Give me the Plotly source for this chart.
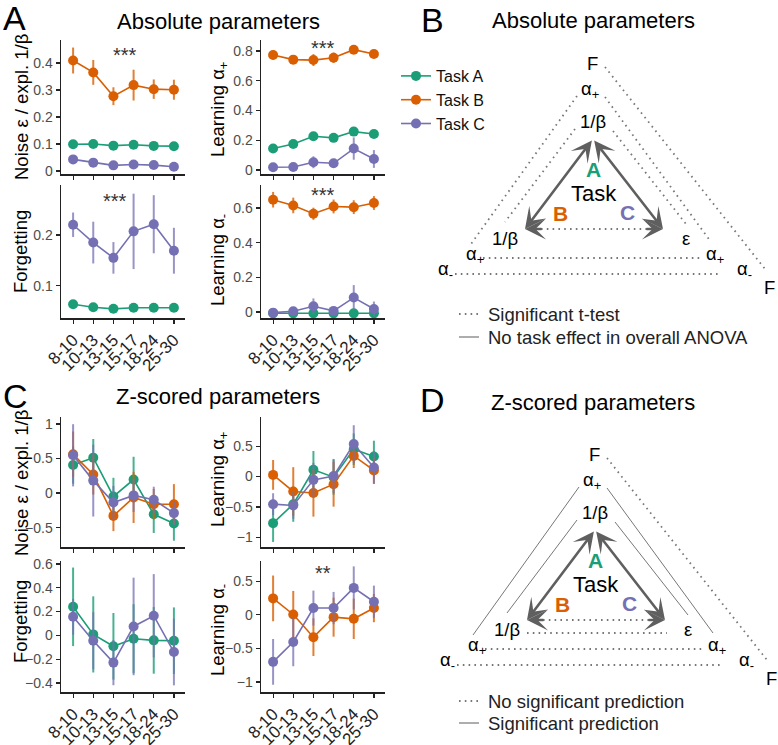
import plotly.graph_objects as go

W, H = 778, 745
FONT = "Liberation Sans, Arial, sans-serif"

# ---------------- data ----------------
ages = ["8-10", "10-13", "13-15", "15-17", "18-24", "25-30"]
tasks = ["Task A", "Task B", "Task C"]

# Panel A: absolute parameters (mean, error half-width)
abs_noise_A = [0.099, 0.100, 0.094, 0.097, 0.093, 0.092]
abs_noise_A_err = [0.005, 0.005, 0.005, 0.005, 0.005, 0.005]
abs_noise_B = [0.409, 0.365, 0.277, 0.318, 0.303, 0.301]
abs_noise_B_err = [0.048, 0.046, 0.033, 0.057, 0.036, 0.037]
abs_noise_C = [0.043, 0.031, 0.021, 0.024, 0.022, 0.016]
abs_noise_C_err = [0.008, 0.010, 0.005, 0.006, 0.005, 0.005]

abs_apos_A = [0.144, 0.175, 0.227, 0.216, 0.258, 0.242]
abs_apos_A_err = [0.02, 0.02, 0.02, 0.02, 0.02, 0.02]
abs_apos_B = [0.773, 0.742, 0.739, 0.755, 0.809, 0.780]
abs_apos_B_err = [0.03, 0.03, 0.04, 0.035, 0.02, 0.025]
abs_apos_C = [0.018, 0.020, 0.052, 0.045, 0.144, 0.074]
abs_apos_C_err = [0.01, 0.01, 0.04, 0.03, 0.075, 0.06]

abs_forg_A = [0.064, 0.058, 0.055, 0.057, 0.057, 0.057]
abs_forg_A_err = [0.005, 0.005, 0.004, 0.004, 0.004, 0.004]
abs_forg_C = [0.220, 0.185, 0.155, 0.207, 0.221, 0.169]
abs_forg_C_err = [0.024, 0.041, 0.031, 0.074, 0.057, 0.045]

abs_aneg_A = [-0.008, -0.008, -0.008, -0.008, -0.008, -0.008]
abs_aneg_A_err = [0.003, 0.003, 0.003, 0.003, 0.003, 0.003]
abs_aneg_B = [0.648, 0.615, 0.567, 0.609, 0.605, 0.629]
abs_aneg_B_err = [0.045, 0.045, 0.035, 0.04, 0.04, 0.04]
abs_aneg_C = [-0.004, 0.004, 0.033, 0.006, 0.083, 0.017]
abs_aneg_C_err = [0.01, 0.01, 0.045, 0.015, 0.072, 0.043]

# Panel C: z-scored parameters
z_noise_A = [0.405, 0.512, -0.049, 0.195, -0.307, -0.439]
z_noise_A_err = [0.27, 0.27, 0.27, 0.33, 0.27, 0.25]
z_noise_B = [0.56, 0.268, -0.33, -0.063, -0.161, -0.161]
z_noise_B_err = [0.33, 0.29, 0.22, 0.37, 0.22, 0.29]
z_noise_C = [0.546, 0.18, -0.137, -0.034, -0.098, -0.29]
z_noise_C_err = [0.45, 0.52, 0.24, 0.24, 0.19, 0.17]

z_apos_A = [-0.767, -0.455, 0.11, -0.01, 0.45, 0.33]
z_apos_A_err = [0.31, 0.29, 0.31, 0.29, 0.26, 0.26]
z_apos_B = [0.027, -0.246, -0.27, -0.126, 0.34, 0.10]
z_apos_B_err = [0.245, 0.40, 0.39, 0.37, 0.2, 0.22]
z_apos_C = [-0.455, -0.477, -0.055, 0.01, 0.535, 0.15]
z_apos_C_err = [0.18, 0.22, 0.28, 0.28, 0.31, 0.27]

z_forg_A = [0.24, 0.008, -0.092, -0.028, -0.042, -0.045]
z_forg_A_err = [0.33, 0.32, 0.28, 0.29, 0.28, 0.28]
z_forg_C = [0.156, -0.045, -0.229, 0.075, 0.165, -0.14]
z_forg_C_err = [0.15, 0.24, 0.19, 0.41, 0.35, 0.28]

z_aneg_B = [0.244, 0.005, -0.333, -0.035, -0.06, 0.10]
z_aneg_B_err = [0.34, 0.35, 0.28, 0.29, 0.30, 0.21]
z_aneg_C = [-0.70, -0.405, 0.10, 0.10, 0.40, 0.194]
z_aneg_C_err = [0.34, 0.36, 0.26, 0.24, 0.32, 0.24]

# ---------------- styles ----------------
COL = {"Task A": "#1b9e77", "Task B": "#d95f02", "Task C": "#7570b3"}
ERRCOL = {"Task A": "rgba(27,158,119,0.8)", "Task B": "rgba(217,95,2,0.8)",
          "Task C": "rgba(117,112,179,0.75)"}
AXC = "#222222"
TICKC = "#4d4d4d"

subplots = [
    (2, (61, 185, 40, 174), [-0.011, 0.485], [0, 0.1, 0.2, 0.3, 0.4], False,
     [("Task A", abs_noise_A, abs_noise_A_err), ("Task B", abs_noise_B, abs_noise_B_err),
      ("Task C", abs_noise_C, abs_noise_C_err)],
     "Noise ε / expl. 1/β", (21, 107), ("***", 125, 55)),
    (3, (261, 385, 40, 174), [-0.027, 0.874], [0, 0.2, 0.4, 0.6, 0.8], False,
     [("Task A", abs_apos_A, abs_apos_A_err), ("Task B", abs_apos_B, abs_apos_B_err),
      ("Task C", abs_apos_C, abs_apos_C_err)],
     "Learning α<sub>+</sub>", (219, 110), ("***", 323, 48)),
    (4, (61, 185, 185, 318), [0.037, 0.298], [0.1, 0.2], True,
     [("Task A", abs_forg_A, abs_forg_A_err), ("Task C", abs_forg_C, abs_forg_C_err)],
     "Forgetting", (20, 252), ("***", 115, 201)),
    (5, (261, 385, 185, 318), [-0.035, 0.733], [0, 0.2, 0.4, 0.6], True,
     [("Task A", abs_aneg_A, abs_aneg_A_err), ("Task B", abs_aneg_B, abs_aneg_B_err),
      ("Task C", abs_aneg_C, abs_aneg_C_err)],
     "Learning α<sub>-</sub>", (219, 260), ("***", 323, 195)),
    (6, (61, 185, 417, 547), [-0.78, 1.10], [-0.5, 0, 0.5, 1], False,
     [("Task A", z_noise_A, z_noise_A_err), ("Task B", z_noise_B, z_noise_B_err),
      ("Task C", z_noise_C, z_noise_C_err)],
     "Noise ε / expl. 1/β", (21, 483), None),
    (7, (261, 385, 417, 547), [-1.16, 0.98], [-1, -0.5, 0, 0.5], False,
     [("Task A", z_apos_A, z_apos_A_err), ("Task B", z_apos_B, z_apos_B_err),
      ("Task C", z_apos_C, z_apos_C_err)],
     "Learning α<sub>+</sub>", (219, 480), None),
    (8, (61, 185, 561, 692), [-0.476, 0.625], [-0.4, -0.2, 0, 0.2, 0.4, 0.6], True,
     [("Task A", z_forg_A, z_forg_A_err), ("Task C", z_forg_C, z_forg_C_err)],
     "Forgetting", (20, 622), None),
    (9, (261, 385, 561, 692), [-1.148, 0.80], [-1, -0.5, 0, 0.5], True,
     [("Task B", z_aneg_B, z_aneg_B_err), ("Task C", z_aneg_C, z_aneg_C_err)],
     "Learning α<sub>-</sub>", (219, 630), ("**", 323, 573)),
]

fig = go.Figure()
layout = dict(width=W, height=H, autosize=False,
              margin=dict(l=0, r=0, t=0, b=0, pad=0, autoexpand=False),
              paper_bgcolor="white", plot_bgcolor="rgba(0,0,0,0)",
              font=dict(family=FONT, color="#000"), showlegend=True)

layout["xaxis"] = dict(domain=[0, 1], range=[0, W], visible=False, fixedrange=True,
                       automargin=False)
layout["yaxis"] = dict(domain=[0, 1], range=[H, 0], visible=False, fixedrange=True,
                       automargin=False)

annotations = []
shapes = []


def ann(text, x, y, size, color="#000", angle=0, **kw):
    d = dict(text=text, x=x, y=y, xref="x", yref="y", showarrow=False,
             xanchor="center", yanchor="middle", textangle=angle,
             font=dict(size=size, color=color, family=FONT))
    d.update(kw)
    annotations.append(d)


for idx, (x0, x1, y0, y1), yr, ytv, showx, series, ytitle, tpos, stars in subplots:
    layout[f"xaxis{idx}"] = dict(
        domain=[x0 / W, x1 / W], anchor=f"y{idx}", type="category",
        categoryorder="array", categoryarray=ages, range=[-0.6, 5.55],
        tickmode="array", tickvals=ages, ticktext=ages,
        showline=True, linecolor=AXC, linewidth=1.5, ticks="outside", ticklen=4,
        tickcolor=AXC, tickwidth=1.2, showgrid=False, zeroline=False,
        showticklabels=showx, tickangle=-45, automargin=False,
        tickfont=dict(size=17, color="#222", family=FONT))
    layout[f"yaxis{idx}"] = dict(
        domain=[1 - y1 / H, 1 - y0 / H], anchor=f"x{idx}", range=yr, tickvals=ytv,
        showline=True, linecolor=AXC, linewidth=1.5, ticks="outside", ticklen=4,
        tickcolor=AXC, tickwidth=1.2, showgrid=False, zeroline=False, automargin=False,
        tickfont=dict(size=14, color=TICKC, family=FONT))
    for task, vals, errs in series:
        fig.add_trace(go.Scatter(
            x=ages, y=vals, mode="lines+markers", name=task, legendgroup=task,
            showlegend=False, xaxis=f"x{idx}", yaxis=f"y{idx}",
            line=dict(color=COL[task], width=1.6),
            marker=dict(color=COL[task], size=10),
            error_y=dict(type="data", array=errs, visible=True, thickness=2,
                         width=0, color=ERRCOL[task])))
    ann(ytitle, tpos[0], tpos[1], 18.5, angle=-90)
    if stars:
        ann(stars[0], stars[1], stars[2], 20, color="#333")

for task in tasks:
    fig.add_trace(go.Scatter(x=[None], y=[None], mode="lines+markers", name=task,
                             legendgroup=task, xaxis="x", yaxis="y",
                             line=dict(color=COL[task], width=1.6),
                             marker=dict(color=COL[task], size=10)))
layout["legend"] = dict(x=396 / W, y=1 - 59 / H, xanchor="left", yanchor="top",
                        font=dict(size=16, family=FONT, color="#111"),
                        bgcolor="rgba(0,0,0,0)", tracegroupgap=0, itemwidth=30)

ann("Absolute parameters", 218, 21, 22)
ann("Z-scored parameters", 218, 396, 22)
ann("Absolute parameters", 593, 20, 22)
ann("Z-scored parameters", 593, 402, 22)
ann("A", 14, 18, 34)
ann("C", 15, 396, 34)
ann("B", 432, 20, 34)
ann("D", 432, 400, 34)

# ---------------- diagrams ----------------
diag_labels = [("F", 592, 63), ("α<sub>+</sub>", 590, 90), ("1/β", 593, 121),
               ("1/β", 505, 238), ("ε", 686, 238),
               ("α<sub>+</sub>", 475, 255), ("α<sub>+</sub>", 715, 255),
               ("α<sub>-</sub>", 445, 270), ("α<sub>-</sub>", 744, 270), ("F", 769, 287)]
apex = (593, 139)
tip_left = (525, 229)
tip_right = (663, 229)
side_lines = [((577, 96), (471, 244)), ((575, 129), (505, 222)),
              ((605, 97), (711, 242)), ((613, 131), (686, 224))]
far_line = ((605, 67), (765, 269))
bottom_lines = [((483, 258), (701, 258)), ((455, 274), (721, 274))]
inner_bottom = ((525, 242), (665, 242))
ARROWC = "#5f5f5f"
LINEC = "#777777"


def draw_diagram(dx, dy, solid_sides, with_inner_bottom, legend_rows):
    dotted = dict(color=LINEC, width=1.8, dash="1.6px,4.2px")
    solid = dict(color=LINEC, width=1.0)
    for (a, b) in side_lines:
        shapes.append(dict(type="line", xref="x", yref="y", x0=a[0] + dx, y0=a[1] + dy,
                           x1=b[0] + dx, y1=b[1] + dy, line=solid if solid_sides else dotted))
    for (a, b) in [far_line] + bottom_lines + ([inner_bottom] if with_inner_bottom else []):
        shapes.append(dict(type="line", xref="x", yref="y", x0=a[0] + dx, y0=a[1] + dy,
                           x1=b[0] + dx, y1=b[1] + dy, line=dotted))
    shapes.append(dict(type="line", xref="x", yref="y", x0=tip_left[0] + 16 + dx,
                       y0=tip_left[1] + dy, x1=tip_right[0] - 16 + dx, y1=tip_right[1] + dy,
                       line=dotted))
    for t, x, y in diag_labels:
        ann(t, x + dx, y + dy, 18.5)
    for tip in (tip_left, tip_right):
        annotations.append(dict(
            x=tip[0] + dx, y=tip[1] + dy, ax=apex[0] + dx, ay=apex[1] + dy,
            xref="x", yref="y", axref="x", ayref="y", text="", showarrow=True,
            arrowside="end+start", arrowhead=3, startarrowhead=3,
            arrowsize=1.35, startarrowsize=1.35, arrowwidth=2.6, arrowcolor=ARROWC))
    for tip, sgn in ((tip_left, 1), (tip_right, -1)):
        annotations.append(dict(
            x=tip[0] + dx, y=tip[1] + dy, ax=tip[0] + sgn * 18 + dx, ay=tip[1] + dy,
            xref="x", yref="y", axref="x", ayref="y", text="", showarrow=True,
            arrowhead=3, arrowsize=1.35, arrowwidth=2.6, arrowcolor=ARROWC))
    ann("<b>A</b>", 593 + dx, 169 + dy, 21, color=COL["Task A"])
    ann("Task", 594 + dx, 193 + dy, 22)
    ann("<b>B</b>", 560 + dx, 213 + dy, 21, color=COL["Task B"])
    ann("<b>C</b>", 627 + dx, 212 + dy, 21, color=COL["Task C"])
    for (txt, y, style) in legend_rows:
        shapes.append(dict(type="line", xref="x", yref="y", x0=459, y0=y, x1=479, y1=y,
                           line=dotted if style == "dot" else dict(color="#999", width=1.6)))
        ann(txt, 486, y, 18.5, color="#222", xanchor="left")


draw_diagram(0, 0, False, False,
             [("Significant t-test", 314, "dot"),
              ("No task effect in overall ANOVA", 337, "solid")])
draw_diagram(2, 391, True, True,
             [("No significant prediction", 701, "dot"),
              ("Significant prediction", 723, "solid")])

layout["annotations"] = annotations
layout["shapes"] = shapes
fig.update_layout(**layout)
fig.write_html("out.html", config={"displayModeBar": False, "staticPlot": True},
               post_script="document.body.style.margin='0';document.body.style.padding='0';")
